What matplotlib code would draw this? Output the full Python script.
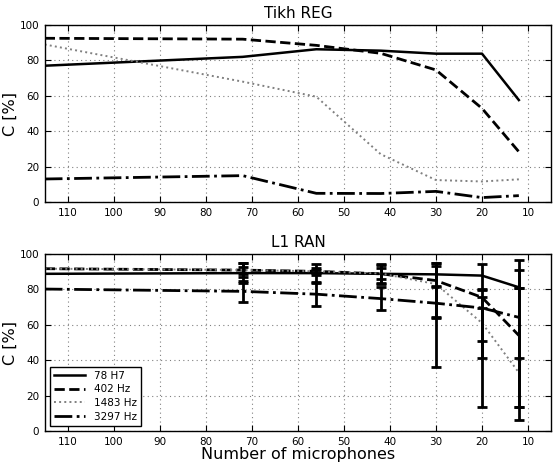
import numpy as np
import matplotlib
matplotlib.use("Agg")
import matplotlib.pyplot as plt

# ---------------------------------------------------------------------------
# Data
# ---------------------------------------------------------------------------
n_mics = [115, 72, 56, 42, 30, 20, 12]
labels = ["78 H7", "402 Hz", "1483 Hz", "3297 Hz"]

# Tikh REG
tikh_78 = [77.0, 82.0, 86.3, 85.5, 83.8, 83.8, 57.6]
tikh_402 = [92.5, 92.0, 88.5, 84.0, 74.6, 52.9, 28.4]
tikh_1483 = [89.0, 68.0, 59.5, 27.0, 12.4, 11.6, 12.8]
tikh_3297 = [13.0, 14.9, 4.9, 4.8, 6.0, 2.5, 3.6]

# L1 RAN
ran_78 = [88.8, 89.2, 89.2, 88.8, 88.5, 87.8, 81.2]
ran_402 = [91.7, 90.9, 90.2, 88.8, 85.0, 75.5, 54.0]
ran_1483 = [91.7, 91.0, 90.2, 89.0, 83.0, 61.0, 33.0]
ran_3297 = [80.2, 78.9, 77.3, 74.8, 72.2, 69.5, 64.2]

# asymmetric spread (lower, upper) for L1 RAN, first point has none
ran_78_err = [[0, 5.5, 5.0, 5.0, 7.0, 8.0, 75.0],
              [0, 5.5, 5.0, 5.0, 6.5, 6.5, 15.2]]
ran_402_err = [[0, 2.0, 2.0, 5.5, 21.0, 24.5, 40.5],
               [0, 2.0, 2.0, 5.5, 8.0, 4.5, 37.0]]
ran_1483_err = [[0, 4.0, 1.0, 3.0, 47.0, 47.5, 19.5],
                [0, 4.0, 1.0, 3.0, 12.0, 8.5, 47.8]]
ran_3297_err = [[0, 6.0, 6.5, 6.3, 8.0, 28.0, 22.7],
                [0, 6.0, 6.5, 6.3, 9.5, 6.0, 16.8]]

styles = [
    dict(color="black", linestyle="-", linewidth=1.8),
    dict(color="black", linestyle="--", linewidth=2.0),
    dict(color="0.5", linestyle=":", linewidth=1.4),
    dict(color="black", linestyle="-.", linewidth=2.0),
]

# ---------------------------------------------------------------------------
# Figure
# ---------------------------------------------------------------------------
fig = plt.figure(figsize=(5.54, 4.63), dpi=100)
ax1 = fig.add_axes([0.0807, 0.5637, 0.914, 0.3823])
ax2 = fig.add_axes([0.0807, 0.0691, 0.914, 0.3823])

for y, st in zip([tikh_78, tikh_402, tikh_1483, tikh_3297], styles):
    ax1.plot(n_mics, y, **st)

lines = []
for y, err, st, lab in zip([ran_78, ran_402, ran_1483, ran_3297],
                           [ran_78_err, ran_402_err, ran_1483_err, ran_3297_err],
                           styles, labels):
    ln, = ax2.plot(n_mics, y, label=lab, **st)
    lines.append(ln)
    ax2.errorbar(n_mics[1:], y[1:],
                 yerr=[err[0][1:], err[1][1:]],
                 fmt="none", ecolor="black", elinewidth=2,
                 capsize=3.6, capthick=2)

ax1.set_title("Tikh REG", fontsize=11, pad=5)
ax2.set_title("L1 RAN", fontsize=11, pad=5)
ax2.set_xlabel("Number of microphones", fontsize=11.5, labelpad=0)

for ax in (ax1, ax2):
    ax.set_xlim(115, 5)
    ax.set_ylim(0, 100)
    ax.set_xticks(np.arange(110, 0, -10))
    ax.set_yticks(np.arange(0, 101, 20))
    ax.set_ylabel("C [%]", fontsize=11.5, labelpad=1)
    ax.grid(True, linestyle=(0, (1, 3)), color="0.5", linewidth=0.8)
    ax.tick_params(direction="in", top=True, right=True, length=4,
                   labelsize=7.5, pad=4)
    for sp in ax.spines.values():
        sp.set_linewidth(1.0)

ax2.legend(handles=lines, loc="lower left", fontsize=7.5, handlelength=3,
           labelspacing=0.35, fancybox=False, edgecolor="black",
           framealpha=1, borderaxespad=0.5)

fig.savefig("out.png", dpi=100)
